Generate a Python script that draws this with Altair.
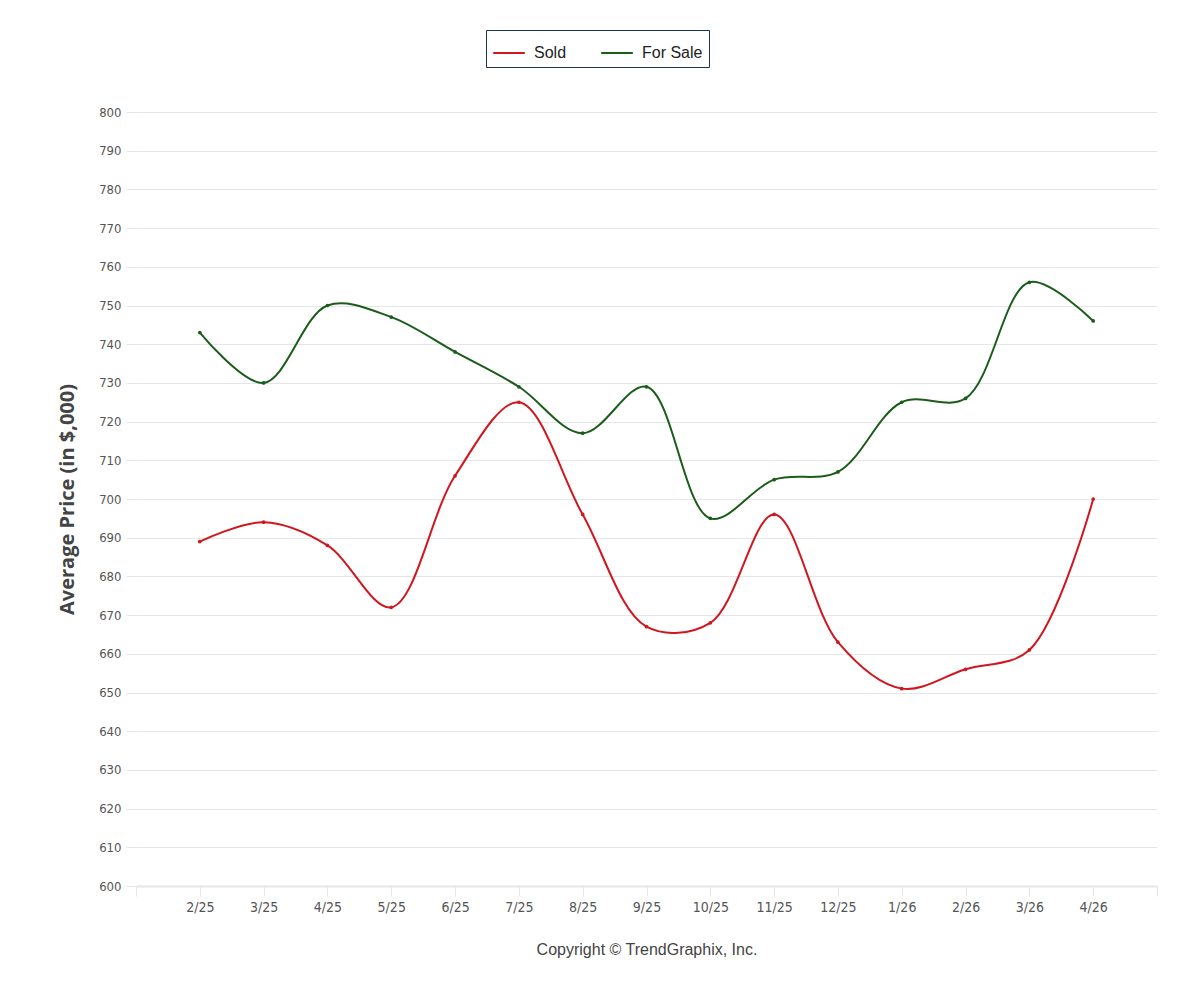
import altair as alt
import pandas as pd

months = ["2/25", "3/25", "4/25", "5/25", "6/25", "7/25", "8/25", "9/25",
          "10/25", "11/25", "12/25", "1/26", "2/26", "3/26", "4/26"]
sold = [689, 694, 688, 672, 706, 725, 696, 667, 668, 696, 663, 651, 656, 661, 700]
for_sale = [743, 730, 750, 747, 738, 729, 717, 729, 695, 705, 707, 725, 726, 756, 746]
series_names = ["Sold", "For Sale"]
series_colors = ["#d0161e", "#1a5c1a"]

rows = []
for i, m in enumerate(months):
    rows.append({"idx": i + 1, "month": m, "series": "Sold", "value": sold[i]})
for i, m in enumerate(months):
    rows.append({"idx": i + 1, "month": m, "series": "For Sale", "value": for_sale[i]})
df = pd.DataFrame(rows)

label_array = "[" + ",".join(["''"] + ["'" + m + "'" for m in months] + ["''"]) + "]"

narrow = "Liberation Sans Narrow, DejaVu Sans Condensed, sans-serif"

chart = alt.Chart(df).mark_line(
    interpolate="catmull-rom",
    strokeWidth=2,
    point=alt.OverlayMarkDef(size=14, filled=True, opacity=1),
).encode(
    x=alt.X(
        "idx:Q",
        scale=alt.Scale(domain=[0, len(months) + 1], nice=False, zero=False),
        axis=alt.Axis(
            values=list(range(0, len(months) + 2)),
            labelExpr=label_array + "[datum.value]",
            grid=False,
            domainColor="#e6e6e6",
            domainWidth=2,
            tickColor="#e6e6e6",
            tickSize=10,
            labelPadding=4,
            labelFont=narrow,
            labelFontSize=14,
            labelColor="#555555",
            title="Copyright © TrendGraphix, Inc.",
            titleFont="Liberation Sans",
            titleFontSize=16,
            titleFontWeight="normal",
            titleColor="#444444",
            titleY=63,
            titleBaseline="middle",
        ),
    ),
    y=alt.Y(
        "value:Q",
        scale=alt.Scale(domain=[600, 800], nice=False, zero=False),
        axis=alt.Axis(
            values=list(range(600, 801, 10)),
            grid=True,
            gridColor="#e6e6e6",
            domain=False,
            tickColor="#e6e6e6",
            tickSize=10,
            labelPadding=5,
            labelFont=narrow,
            labelFontSize=13,
            labelColor="#555555",
            title="Average Price (in $,000)",
            titleFont="Open Sans",
            titleFontSize=20,
            titleFontWeight="bold",
            titleColor="#444444",
            titleAngle=-90,
            titleX=-69,
            titleY=387,
            titleAlign="center",
            titleBaseline="middle",
        ),
    ),
    color=alt.Color(
        "series:N",
        scale=alt.Scale(domain=series_names, range=series_colors),
        legend=alt.Legend(
            title=None,
            orient="none",
            legendX=350,
            legendY=-82,
            direction="horizontal",
            symbolType="stroke",
            symbolSize=1000,
            symbolStrokeWidth=2,
            labelFont="Liberation Sans",
            labelFontSize=16,
            labelColor="#222222",
            strokeColor="#1c3550",
            padding=6,
            columnPadding=30,
            labelOffset=8,
            fillColor="white",
        ),
    ),
).properties(
    width=1021,
    height=774,
    autosize=alt.AutoSizeParams(type="none"),
    padding={"left": 128, "top": 104, "right": 35, "bottom": 100},
    background="white",
).configure_view(stroke=None)

chart.save("out.html", embed_options={"renderer": "svg", "actions": False})
